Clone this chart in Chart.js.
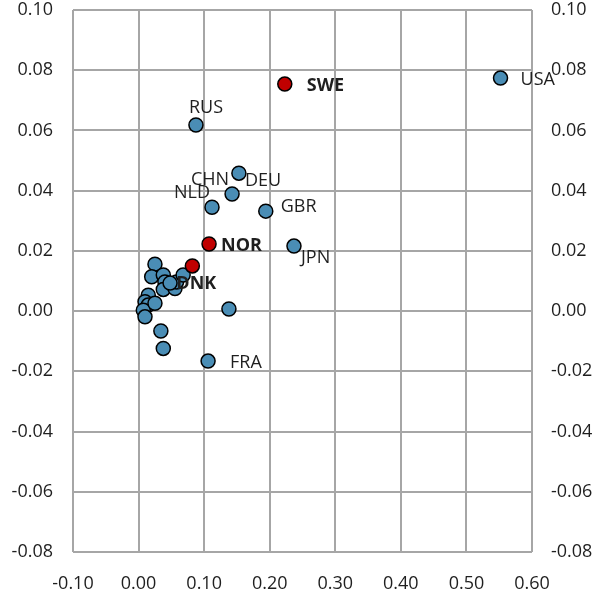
<!DOCTYPE html>
<html>
<head>
<meta charset="utf-8">
<script src="https://cdn.jsdelivr.net/npm/chart.js@4/dist/chart.umd.min.js"></script>
<style>
html,body{margin:0;padding:0;background:#fff;}
#wrap{width:608px;height:599px;}
</style>
</head>
<body>
<div id="wrap"><canvas id="c" width="608" height="599"></canvas></div>
<script>
// ---- data ----
const blueLabels = ['USA','RUS','DEU','CHN','NLD','GBR','JPN','FRA','', '', '', '', '', '', '', '', '', '', '', '', '', '', '', '', '', ''];
const blueX = [0.552,0.0875,0.153,0.1426,0.112,0.194,0.237,0.106,0.1378,
  0.025,0.020,0.0377,0.0402,0.0377,0.0555,0.058,0.068,0.048,0.0148,0.0098,0.0148,0.0072,0.0098,0.025,0.034,0.0377];
const blueY = [0.0774,0.0618,0.0458,0.0389,0.0345,0.0332,0.0216,-0.0166,0.0007,
  0.0156,0.0114,0.0120,0.0097,0.0072,0.0075,0.0097,0.0120,0.0093,0.0053,0.0031,0.0020,0.0003,-0.0019,0.0026,-0.0066,-0.0124];
const redLabels = ['SWE','NOR','DNK'];
const redX = [0.223,0.1075,0.082];
const redY = [0.0754,0.0223,0.0150];
const xTicks = [-0.10,0.00,0.10,0.20,0.30,0.40,0.50,0.60];
const yTicks = [-0.08,-0.06,-0.04,-0.02,0.00,0.02,0.04,0.06,0.08,0.10];

// ---- label placement (style) ----
const labelStyle = {
  USA:{dx:20,dy:2,align:'left'}, SWE:{dx:22,dy:2,align:'left',bold:true},
  RUS:{dx:10,dy:-17,align:'center'}, CHN:{dx:-3,dy:-14,align:'right'},
  NLD:{dx:-2,dy:-14,align:'right'}, DEU:{dx:6,dy:8,align:'left'},
  GBR:{dx:15,dy:-4,align:'left'}, JPN:{dx:7,dy:12,align:'left'},
  NOR:{dx:12,dy:2,align:'left',bold:true}, DNK:{dx:-16,dy:18,align:'left',bold:true},
  FRA:{dx:22,dy:2,align:'left'}
};
const FONT = "'Open Sans', 'Noto Sans', sans-serif";
const TXT = '#1f1f1f';

const toPts = (xs, ys) => xs.map((x,i)=>({x:x,y:ys[i]}));

const labelPlugin = {
  id:'pointLabels',
  afterDatasetsDraw(chart){
    const ctx = chart.ctx;
    ctx.save();
    ctx.textBaseline = 'middle';
    chart.data.datasets.forEach((ds,di)=>{
      const meta = chart.getDatasetMeta(di);
      ds.pointLabels.forEach((lab,i)=>{
        if(!lab) return;
        const st = labelStyle[lab];
        const el = meta.data[i];
        ctx.font = (st.bold?'bold ':'') + '18px ' + FONT;
        ctx.fillStyle = TXT;
        ctx.textAlign = st.align;
        ctx.fillText(lab, el.x + st.dx, el.y + st.dy);
      });
    });
    ctx.restore();
  }
};

const tickFont = {family: FONT, size: 18};
const noPadY = s => { s.paddingTop = 0; s.paddingBottom = 0; };
new Chart(document.getElementById('c'), {
  type:'scatter',
  data:{
    datasets:[
      {data:toPts(redX,redY), pointLabels:redLabels, backgroundColor:'#c00000', borderColor:'#000', borderWidth:1.5, pointRadius:7, pointHoverRadius:7},
      {data:toPts(blueX,blueY), pointLabels:blueLabels, backgroundColor:'#4a8db5', borderColor:'#000', borderWidth:1.5, pointRadius:7, pointHoverRadius:7}
    ]
  },
  options:{
    responsive:false, animation:false,
    layout:{padding:{top:10,left:0,right:0,bottom:0}},
    plugins:{legend:{display:false}, tooltip:{enabled:false}},
    scales:{
      x:{type:'linear', min:xTicks[0], max:xTicks[xTicks.length-1],
        afterBuildTicks(s){ s.ticks = xTicks.map(v=>({value:v})); },
        afterFit(s){ s.height = 47; s.paddingLeft = 0; s.paddingRight = 0; },
        grid:{color:'#a6a6a6', lineWidth:2, drawTicks:false},
        border:{display:false},
        ticks:{font:tickFont, color:TXT, padding:21, maxRotation:0, callback:v=>Number(v).toFixed(2)}},
      y:{type:'linear', position:'left', min:yTicks[0], max:yTicks[yTicks.length-1],
        afterBuildTicks(s){ s.ticks = yTicks.map(v=>({value:v})); },
        afterFit(s){ s.width = 73; noPadY(s); },
        grid:{color:'#a6a6a6', lineWidth:2, drawTicks:false},
        border:{display:false},
        ticks:{font:tickFont, color:TXT, padding:20, callback:v=>Number(v).toFixed(2)}},
      y2:{type:'linear', position:'right', min:yTicks[0], max:yTicks[yTicks.length-1],
        afterBuildTicks(s){ s.ticks = yTicks.map(v=>({value:v})); },
        afterFit(s){ s.width = 76; noPadY(s); },
        grid:{display:false, drawTicks:false},
        border:{display:false},
        ticks:{font:tickFont, color:TXT, padding:19, callback:v=>Number(v).toFixed(2)}}
    }
  },
  plugins:[labelPlugin]
});
</script>
</body>
</html>
